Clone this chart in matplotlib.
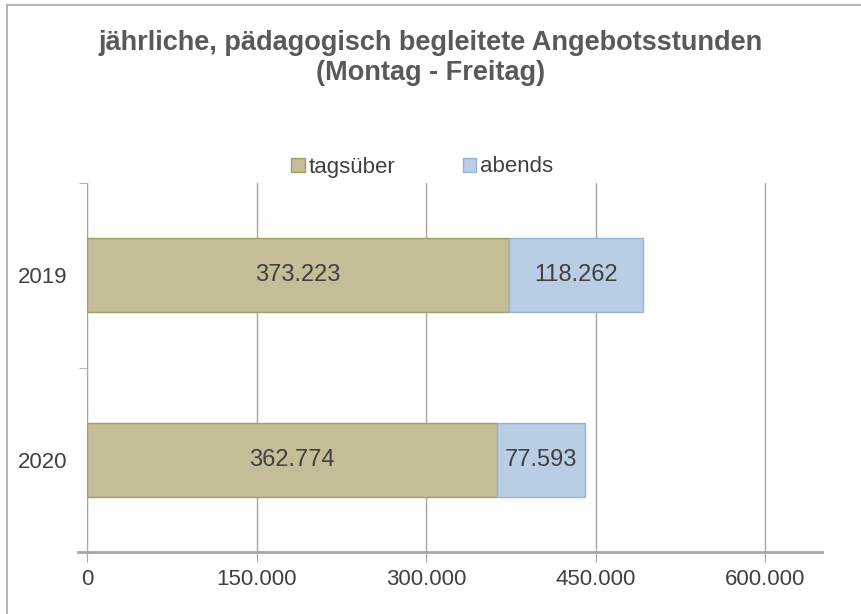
import matplotlib
matplotlib.use("Agg")
import matplotlib.pyplot as plt
from matplotlib.ticker import FuncFormatter, FixedLocator
from matplotlib.patches import Rectangle

plt.rcParams['font.family'] = ['Liberation Sans', 'DejaVu Sans']

years = ["2019", "2020"]
tagsueber = [373223, 362774]
abends = [118262, 77593]
series_names = ["tagsüber", "abends"]
x_ticks = [0, 150000, 300000, 450000, 600000]


def de_fmt(v, pos=None):
    return f"{int(v):,}".replace(",", ".")


fig = plt.figure(figsize=(8.62, 6.14), dpi=100)
ax = fig.add_axes([87 / 862, 1 - 552 / 614, (822 - 87) / 862, (552 - 183) / 614])

ypos = list(range(len(years)))
b1 = ax.barh(ypos, tagsueber, height=0.4, color="#C4BD97", edgecolor="#A59B66",
             linewidth=1, label=series_names[0], zorder=3)
b2 = ax.barh(ypos, abends, left=tagsueber, height=0.4, color="#B9CDE5",
             edgecolor="#95B3D7", linewidth=1, label=series_names[1], zorder=3)

for bars, vals in ((b1, tagsueber), (b2, abends)):
    for rect, v in zip(bars, vals):
        ax.text(rect.get_x() + rect.get_width() / 2, rect.get_y() + rect.get_height() / 2,
                de_fmt(v), ha="center", va="center", fontsize=17, color="#404040", zorder=4)

ax.set_xlim(0, 650000)
ax.set_ylim(len(years) - 0.5, -0.5)
ax.xaxis.set_major_locator(FixedLocator(x_ticks))
ax.xaxis.set_major_formatter(FuncFormatter(de_fmt))
ax.set_yticks(ypos)
ax.set_yticklabels(years)
ax.set_yticks([-0.5, 0.5, 1.5], minor=True)

ax.grid(axis="x", color="#A6A6A6", linewidth=1, zorder=0)
for s in ("top", "right"):
    ax.spines[s].set_visible(False)
ax.spines["left"].set_color("#A6A6A6")
ax.spines["bottom"].set_color("#A6A6A6")
ax.spines["bottom"].set_linewidth(2)
ax.spines["bottom"].set_bounds(-8000, 650000)
ax.tick_params(axis="x", length=7, color="#A6A6A6", labelsize=16, labelcolor="#404040", pad=5)
ax.tick_params(axis="y", which="major", length=0, labelsize=16, labelcolor="#404040", pad=14)
ax.tick_params(axis="y", which="minor", length=6, color="#A6A6A6")

fig.text(0.5, 0.905, "jährliche, pädagogisch begleitete Angebotsstunden\n(Montag - Freitag)",
         ha="center", va="center", fontsize=19.5, fontweight="bold", color="#595959",
         linespacing=1.2)

fig.legend(handles=[b1, b2], labels=series_names, loc="center", bbox_to_anchor=(0.49, 1 - 167 / 614),
           ncol=2, frameon=False, fontsize=16, labelcolor="#404040", handlelength=0.6,
           handleheight=0.6, handletextpad=0.2, columnspacing=3.0)

fig.patches.append(Rectangle((7 / 862, -0.1), 1.2, 1 - 5 / 614 + 0.1, transform=fig.transFigure,
                             fill=False, edgecolor="#A6A6A6", linewidth=1.2))

fig.savefig("out.png", dpi=100)
